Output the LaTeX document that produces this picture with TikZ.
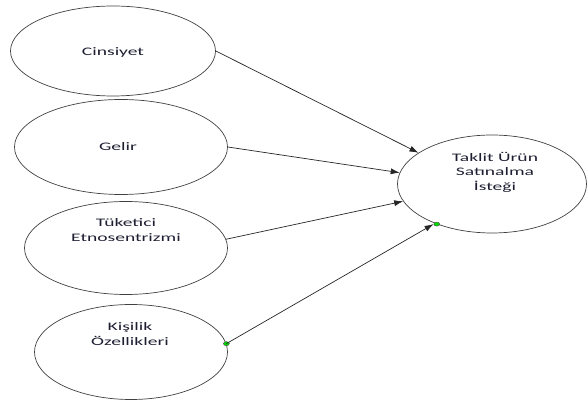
\documentclass[tikz,border=0pt]{standalone}
\usepackage{fontspec}
\setmainfont[FakeStretch=1.7]{Carlito}
\usetikzlibrary{arrows.meta,shapes.geometric}
\definecolor{inkdark}{RGB}{30,30,50}
\tikzset{
  oval/.style={ellipse, draw=black!75, line width=0.7pt, inner sep=0pt},
  lbl/.style={text=inkdark, align=center, font=\fontsize{11.5}{14.5}\selectfont},
  link/.style={draw=black!85, line width=0.7pt, -{Latex[length=9pt,width=6pt]}},
  gdot/.style={ellipse, draw=black!70, fill=green!85!black, line width=0.4pt,
    minimum width=6pt, minimum height=4pt, inner sep=0pt}
}
\begin{document}
\begin{tikzpicture}[x=1pt,y=-1pt]
      \useasboundingbox (0,0) rectangle (587,403);

      % Ovals on the left
      \node[oval, minimum width=205pt, minimum height=90pt] (cins) at (113,51) {};
      \node[oval, minimum width=213pt, minimum height=95pt] (gelir) at (121,147) {};
      \node[oval, minimum width=203pt, minimum height=93pt] (tuk) at (126,248) {};
      \node[oval, minimum width=193pt, minimum height=95pt] (kis) at (131,352) {};

      % Target oval
      \node[oval, minimum width=189pt, minimum height=98pt] (hedef) at (492,184) {};

      % Labels
      \node[lbl] (cinsT) at (113,52) {Cinsiyet};
      \node[lbl] (gelirT) at (118,147) {Gelir};
      \node[lbl] (tukT) at (126,230) {Tüketici\\Etnosentrizmi};
      \node[lbl] (kisT) at (130,334) {Kişilik\\Özellikleri};
      \node[lbl] (hedefT) at (495,172) {Taklit Ürün\\Satınalma\\İsteği};

      % Green points
      \node[gdot] (d1) at (kis.5) {};
      \node[gdot] (d2) at (hedef.216) {};

      % Arrows
      \draw[link] (cins.east) -- (hedef.157);
      \draw[link] (gelir.east) -- (hedef.173);
      \draw[link] (tuk.5) -- (hedef.191);
      \draw[link] (d1.center) -- (d2.west);
    \end{tikzpicture}
\end{document}
